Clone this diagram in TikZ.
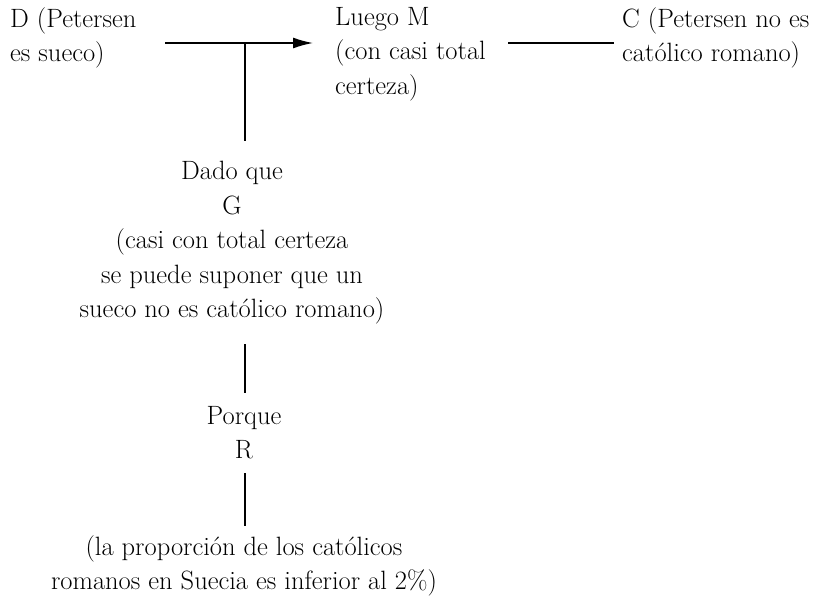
\documentclass[tikz,border=0pt]{standalone}
\usetikzlibrary{arrows.meta,calc}
\begin{document}
\begin{tikzpicture}[x=1pt,y=-1pt,
  txt/.style={inner sep=0pt,font=\fontsize{26.5}{34.5}\selectfont},
  txtl/.style={txt,align=left,anchor=north west},
  txtc/.style={txt,align=center,anchor=north},
  ln/.style={line width=1.6pt},
  arr/.style={ln,-{Latex[length=20pt,width=11pt]}}]
\useasboundingbox (0,0) rectangle (829,600);
\node[txtl] (D) at (10,7) {D (Petersen\\es sueco)};
\node[txtl] (M) at (335,7) {Luego M\\(con casi total\\certeza)};
\node[txtl] (C) at (622,7) {C (Petersen no es\\católico romano)};
\node[txtc] (G) at (232,161) {Dado que\\G\\(casi con total certeza\\se puede suponer que un\\sueco no es católico romano)};
\node[txtc] (R) at (244,406) {Porque\\R};
\node[txtc] (S) at (244,535) {(la proporción de los católicos\\romanos en Suecia es inferior al 2\%)};
\coordinate (j) at (245,43);
\coordinate (as) at (165,43);
\coordinate (ls) at (508,43);
\draw[arr] (as) -- ($(M.west |- j)+(-22,0)$);
\draw[ln] (ls) -- ($(C.west |- j)+(-8,0)$);
\draw[ln] (j) -- (j |- G.north) [shorten >=20pt];
\draw[ln,shorten <=20pt,shorten >=13pt] (G.south -| j) -- (R.north -| j);
\draw[ln,shorten <=14pt,shorten >=9pt] (R.south -| j) -- (S.north -| j);
\end{tikzpicture}
\end{document}
